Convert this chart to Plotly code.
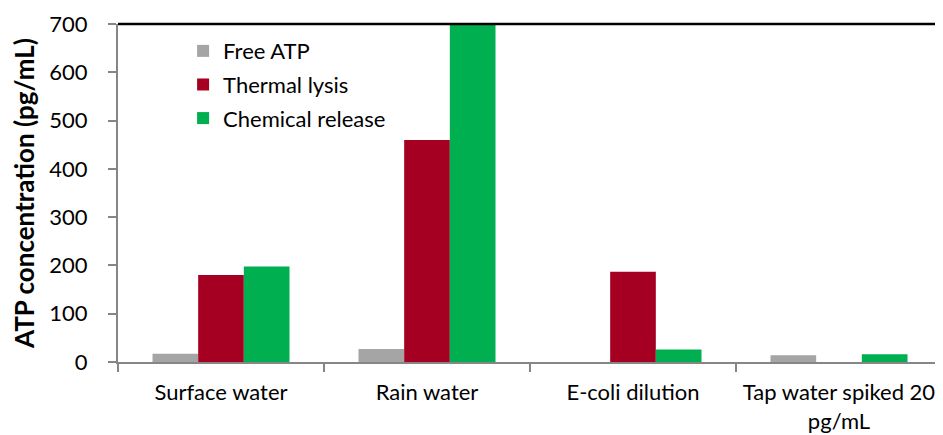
import plotly.graph_objects as go

categories = ["Surface water", "Rain water", "E-coli dilution", "Tap water spiked 20<br>pg/mL"]
series_names = ["Free ATP", "Thermal lysis", "Chemical release"]
free_atp = [17, 27, 0, 14]
thermal_lysis = [180, 460, 187, 0]
chemical_release = [198, 700, 26, 16]
colors = ["#A5A5A5", "#A50021", "#00B050"]
y_ticks = [0, 100, 200, 300, 400, 500, 600, 700]

font_family = "Lato, 'Open Sans', sans-serif"

fig = go.Figure()
for i, (name, vals) in enumerate(zip(series_names, [free_atp, thermal_lysis, chemical_release])):
    fig.add_trace(go.Bar(
        x=categories, y=vals, name=name,
        marker=dict(color=colors[i], line=dict(width=0)),
        legendgroup=name,
    ))

# page body has an 8px default margin, so the figure is sized/placed to compensate
fig.update_layout(
    width=935, height=427,
    margin=dict(l=110, r=1, t=16, b=73),
    paper_bgcolor="white", plot_bgcolor="white",
    barmode="group", bargap=0.335, bargroupgap=0,
    font=dict(family=font_family, size=22, color="#000000"),
    legend=dict(
        x=0.079, y=0.982, xanchor="left", yanchor="top",
        bgcolor="rgba(0,0,0,0)", font=dict(size=22),
        tracegroupgap=2, itemsizing="constant",
    ),
    xaxis=dict(
        showline=True, linecolor="#868686", linewidth=2,
        ticks="outside", tickson="boundaries", ticklen=8, tickcolor="#868686", tickwidth=2,
        tickfont=dict(size=22), showgrid=False, automargin=False, ticklabelstandoff=10,
    ),
    yaxis=dict(
        range=[0, 700], tickvals=y_ticks,
        showline=True, linecolor="#868686", linewidth=2,
        ticks="outside", ticklen=8, tickcolor="#868686", tickwidth=2,
        tickfont=dict(size=22), showgrid=False, zeroline=False, automargin=False,
        ticklabelstandoff=16,
        title=dict(text="<b>ATP concentration (pg/mL)</b>", font=dict(size=26), standoff=8),
    ),
    shapes=[
        dict(type="line", xref="paper", yref="paper", x0=0, x1=1, y0=1, y1=1,
             line=dict(color="black", width=2.5)),
        dict(type="line", xref="paper", yref="paper", x0=1, x1=1, y0=0, y1=1,
             line=dict(color="#868686", width=2)),
    ],
)

fig.write_html("out.html")
